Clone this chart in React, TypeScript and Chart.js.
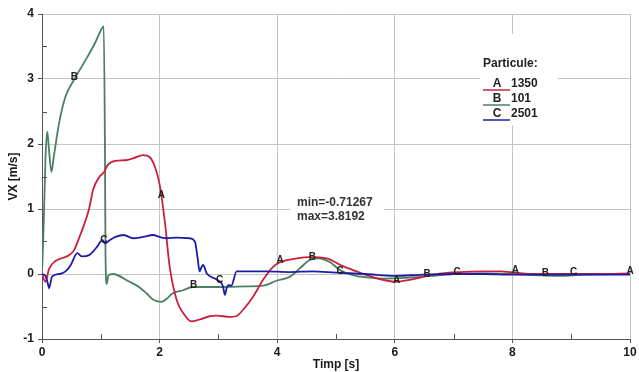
import React, { useEffect, useRef } from "react";
import { Chart, registerables } from "chart.js";

Chart.register(...registerables);

// ---- Data ----
const timeA = [0, 0.06, 0.12, 0.23, 0.36, 0.46, 0.54, 0.65, 0.8, 0.87, 0.98, 1.05, 1.12, 1.25, 1.42, 1.55, 1.72, 1.83, 1.92, 2.0, 2.09, 2.17, 2.29, 2.4, 2.54, 2.68, 2.85, 2.97, 3.19, 3.3, 3.42, 3.59, 3.76, 3.93, 4.05, 4.33, 4.56, 4.84, 5.12, 5.35, 5.6, 5.85, 6.03, 6.25, 6.55, 6.8, 7.1, 7.5, 7.8, 8.05, 8.4, 9.0, 9.5, 10];
const velA = [0, -0.12, 0.08, 0.2, 0.25, 0.29, 0.36, 0.6, 1.0, 1.3, 1.5, 1.56, 1.68, 1.74, 1.75, 1.78, 1.83, 1.8, 1.65, 1.38, 0.8, 0.12, -0.4, -0.6, -0.73, -0.7, -0.65, -0.64, -0.66, -0.65, -0.55, -0.35, -0.09, 0.11, 0.18, 0.24, 0.26, 0.24, 0.12, 0.04, -0.04, -0.1, -0.12, -0.09, -0.03, 0.01, 0.03, 0.04, 0.04, 0.02, 0.0, 0.0, 0.0, 0.01];

const timeB = [0, 0.03, 0.06, 0.09, 0.12, 0.16, 0.2, 0.29, 0.4, 0.54, 0.74, 0.9, 1.02, 1.05, 1.07, 1.08, 1.1, 1.13, 1.2, 1.49, 1.65, 1.78, 1.9, 2.03, 2.12, 2.22, 2.4, 2.56, 3.0, 3.5, 3.76, 4.0, 4.22, 4.4, 4.56, 4.7, 4.9, 5.07, 5.3, 5.52, 5.8, 6.2, 6.6, 7.0, 7.5, 8.0, 8.5, 8.8, 9.2, 10];
const velB = [0, 0.8, 1.8, 2.19, 1.9, 1.57, 1.8, 2.32, 2.73, 2.98, 3.29, 3.55, 3.78, 3.81, 2.0, 0.3, -0.15, -0.02, 0.0, -0.12, -0.2, -0.3, -0.4, -0.43, -0.38, -0.3, -0.25, -0.2, -0.2, -0.19, -0.18, -0.1, -0.04, 0.1, 0.22, 0.24, 0.18, 0.06, -0.02, -0.05, -0.07, -0.06, -0.03, 0.0, 0.01, 0.0, -0.02, -0.03, -0.01, 0.0];

const timeC = [0, 0.06, 0.1, 0.12, 0.17, 0.3, 0.4, 0.49, 0.6, 0.68, 0.8, 0.92, 1.03, 1.07, 1.15, 1.25, 1.39, 1.55, 1.72, 1.89, 2.0, 2.12, 2.3, 2.51, 2.6, 2.65, 2.68, 2.71, 2.74, 2.8, 2.94, 3.05, 3.08, 3.11, 3.14, 3.17, 3.22, 3.31, 3.6, 3.82, 4.2, 4.6, 5.0, 5.5, 6.0, 6.5, 7.0, 7.5, 8.0, 9.0, 10];
const velC = [0, -0.03, -0.15, -0.22, -0.04, 0.0, 0.04, 0.14, 0.32, 0.27, 0.29, 0.4, 0.52, 0.47, 0.52, 0.57, 0.6, 0.55, 0.57, 0.6, 0.57, 0.55, 0.56, 0.55, 0.5, 0.22, 0.04, 0.1, 0.14, 0.01, -0.07, -0.14, -0.2, -0.32, -0.22, -0.17, -0.18, 0.04, 0.04, 0.04, 0.03, 0.04, 0.02, 0.0, -0.03, -0.01, 0.0, 0.0, -0.01, -0.01, -0.01];

const markerTimesA = [2.03, 4.05, 6.03, 8.05, 10];
const markerTimesB = [0.55, 2.58, 4.6, 6.55, 8.56];
const markerTimesC = [1.05, 3.02, 5.07, 7.06, 9.04];

const seriesLetters = ["A", "B", "C"];
const seriesIds = ["1350", "101", "2501"];
const legendTitle = "Particule:";
const annotationLines = ["min=-0.71267", "max=3.8192"];

const xTickValues = [0, 2, 4, 6, 8, 10];
const yTickValues = [-1, 0, 1, 2, 3, 4];
const xMinorTicks = [1, 3, 5, 7, 9];
const yMinorTicks = [-0.5, 0.5, 1.5, 2.5, 3.5];

const xTitle = "Timp [s]";
const yTitle = "VX [m/s]";

const COLORS = { A: "#cc2038", B: "#4b7f62", C: "#1c1ca6" };
const FONT = "'Liberation Sans', Arial, sans-serif";

const toPoints = (t: number[], v: number[]) => t.map((x, i) => ({ x, y: v[i] }));

function interp(t: number[], v: number[], x: number): number {
  if (x <= t[0]) return v[0];
  for (let i = 1; i < t.length; i++) {
    if (x <= t[i]) {
      const f = (x - t[i - 1]) / (t[i] - t[i - 1]);
      return v[i - 1] + f * (v[i] - v[i - 1]);
    }
  }
  return v[v.length - 1];
}

const overlayPlugin = {
  id: "overlay",
  beforeDatasetsDraw(chart: any) {
    const { ctx } = chart;
    ctx.save();
    // white boxes behind annotation and legend
    ctx.fillStyle = "#ffffff";
    ctx.fillRect(290, 194, 94, 32);
    ctx.fillRect(480, 34, 78, 91);
    ctx.restore();
  },
  afterDraw(chart: any) {
    const { ctx } = chart;
    const xs = chart.scales.x;
    const ys = chart.scales.y;
    const area = chart.chartArea;
    ctx.save();
    // minor ticks
    ctx.strokeStyle = "#555";
    ctx.lineWidth = 1;
    ctx.beginPath();
    xMinorTicks.forEach((t) => {
      const px = Math.round(xs.getPixelForValue(t)) + 0.5;
      ctx.moveTo(px, area.bottom);
      ctx.lineTo(px, area.bottom - 5);
    });
    yMinorTicks.forEach((v) => {
      const py = Math.round(ys.getPixelForValue(v)) + 0.5;
      ctx.moveTo(area.left, py);
      ctx.lineTo(area.left + 5, py);
    });
    ctx.stroke();

    // letter markers along lines
    ctx.font = `bold 10px ${FONT}`;
    ctx.fillStyle = "#222";
    ctx.textAlign = "center";
    ctx.textBaseline = "middle";
    const sets: [number[], number[], number[], string][] = [
      [markerTimesA, timeA, velA, seriesLetters[0]],
      [markerTimesB, timeB, velB, seriesLetters[1]],
      [markerTimesC, timeC, velC, seriesLetters[2]],
    ];
    sets.forEach(([mt, t, v, letter]) => {
      mt.forEach((m) => {
        const px = xs.getPixelForValue(m);
        const py = ys.getPixelForValue(interp(t, v, m));
        ctx.fillText(letter, px, py - 2);
      });
    });

    // annotation text
    ctx.font = `bold 12px ${FONT}`;
    ctx.fillStyle = "#333";
    ctx.textAlign = "left";
    annotationLines.forEach((line, i) => ctx.fillText(line, 297, 203 + i * 14));

    // legend
    ctx.fillStyle = "#222";
    ctx.fillText(legendTitle, 483, 64);
    const cols = [COLORS.A, COLORS.B, COLORS.C];
    seriesLetters.forEach((letter, i) => {
      const y = 84 + i * 15;
      ctx.fillStyle = "#222";
      ctx.textAlign = "center";
      ctx.fillText(letter, 497, y);
      ctx.textAlign = "left";
      ctx.fillText(seriesIds[i], 511, y);
      ctx.strokeStyle = cols[i];
      ctx.lineWidth = 1.5;
      ctx.beginPath();
      ctx.moveTo(483, y + 6);
      ctx.lineTo(510, y + 6);
      ctx.stroke();
    });
    ctx.restore();
  },
};

export default function App() {
  const canvasRef = useRef<HTMLCanvasElement | null>(null);

  useEffect(() => {
    document.body.style.margin = "0";
    const canvas = canvasRef.current;
    if (!canvas) return;
    const lineDs = (label: string, t: number[], v: number[], color: string) => ({
      label,
      data: toPoints(t, v),
      borderColor: color,
      backgroundColor: color,
      borderWidth: 1.8,
      pointRadius: 0,
      cubicInterpolationMode: "monotone",
      fill: false,
    });
    const chart = new Chart(canvas, {
      type: "line",
      data: {
        datasets: [
          lineDs(seriesLetters[2], timeC, velC, COLORS.C),
          lineDs(seriesLetters[0], timeA, velA, COLORS.A),
          lineDs(seriesLetters[1], timeB, velB, COLORS.B),
        ],
      },
      options: {
        responsive: false,
        animation: false,
        devicePixelRatio: 1,
        layout: { autoPadding: false, padding: { top: 14, right: 9, left: 0, bottom: 0 } },
        plugins: { legend: { display: false }, tooltip: { enabled: false } },
        scales: {
          x: {
            type: "linear",
            min: 0,
            max: 10,
            afterFit: (s: any) => {
              s.height = 33;
            },
            afterBuildTicks: (s: any) => {
              s.ticks = xTickValues.map((value) => ({ value }));
            },
            ticks: {
              font: { family: FONT, size: 12, weight: "bold" },
              color: "#1a1a1a",
              padding: 2,
              maxRotation: 0,
              autoSkip: false,
            },
            grid: { color: "#c4c4c4", tickColor: "#555", tickLength: 4, lineWidth: 1 },
            border: { color: "#555", width: 1 },
            title: {
              display: true,
              text: xTitle,
              font: { family: FONT, size: 12, weight: "bold" },
              color: "#1a1a1a",
              padding: { top: 0, bottom: 0 },
            },
          },
          y: {
            type: "linear",
            min: -1,
            max: 4,
            afterFit: (s: any) => {
              s.width = 42;
            },
            afterBuildTicks: (s: any) => {
              s.ticks = yTickValues.map((value) => ({ value }));
            },
            ticks: {
              font: { family: FONT, size: 12, weight: "bold" },
              color: "#1a1a1a",
              padding: 4,
              autoSkip: false,
            },
            grid: { color: "#c4c4c4", tickColor: "#555", tickLength: 4, lineWidth: 1 },
            border: { color: "#555", width: 1 },
            title: {
              display: true,
              text: yTitle,
              font: { family: FONT, size: 12, weight: "bold" },
              color: "#1a1a1a",
              padding: { top: 6, bottom: 0 },
            },
          },
        },
      },
      plugins: [overlayPlugin],
    } as any);
    return () => chart.destroy();
  }, []);

  return (
    <div style={{ width: 639, height: 372 }}>
      <canvas ref={canvasRef} width={639} height={372} />
    </div>
  );
}
